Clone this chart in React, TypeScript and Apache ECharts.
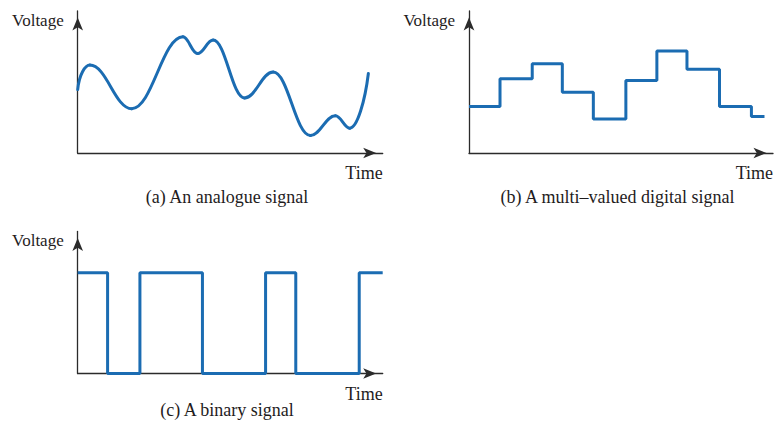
import React, { useEffect, useRef } from "react";
import * as echarts from "echarts";

// (a) analogue signal: key turning points (time, voltage)
const analogueTime = [0, 4.0, 17.7, 34.5, 39.3, 44.4, 54.7, 64.1, 76.3, 84.5, 89.2, 95.3];
const analogueVoltage = [44.7, 61.9, 31.2, 81.8, 70.0, 79.6, 38.8, 57.0, 12.3, 26.2, 17.5, 56.0];

// (b) multi-valued digital signal: level starts
const multiTime = [0, 10.2, 20.8, 30.7, 40.9, 51.6, 61.8, 71.7, 82.4, 92.9, 97.2];
const multiVoltage = [32.8, 52.3, 62.9, 42.8, 23.9, 51.1, 71.8, 58.9, 32.8, 25.7, 25.7];

// (c) binary signal
const binaryTime = [0, 9.8, 20.4, 40.9, 61.6, 71.5, 92.3, 100];
const binaryVoltage = [71, 0, 71, 0, 71, 0, 71, 71];

const captions = ["(a) An analogue signal", "(b) A multi\u2013valued digital signal", "(c) A binary signal"];
const yName = "Voltage";
const xName = "Time";

const BLUE = "#1b6cb2";
const AXIS = "#2b2b2b";
const TEXT = "#1f1c1d";
const FONT = '"Liberation Serif", "DejaVu Serif", serif';

export default function App() {
  const ref = useRef<HTMLDivElement>(null);

  useEffect(() => {
    if (!ref.current) return;
    const chart = echarts.init(ref.current, null, { renderer: "svg" });

    const grids = [
      { left: 77.7, top: 11, width: 305, height: 142 },
      { left: 469, top: 11, width: 304, height: 142 },
      { left: 77.7, top: 231.5, width: 305, height: 142 },
    ];

    const mkX = (i: number) => ({
      type: "value",
      gridIndex: i,
      min: 0,
      max: 100,
      axisLabel: { show: false },
      axisTick: { show: false },
      splitLine: { show: false },
      axisLine: {
        show: true,
        onZero: false,
        symbol: ["none", "arrow"],
        symbolSize: [8, 13],
        symbolOffset: [0, -6.5],
        lineStyle: { color: AXIS, width: 1.3 },
      },
      name: xName,
      nameLocation: "end",
      nameGap: 0,
      nameTextStyle: {
        fontFamily: FONT,
        fontSize: 18,
        color: TEXT,
        align: "right",
        verticalAlign: "top",
        padding: [11, 0, 0, 0],
      },
    });

    const mkY = (i: number) => ({
      type: "value",
      gridIndex: i,
      min: 0,
      max: 100,
      axisLabel: { show: false },
      axisTick: { show: false },
      splitLine: { show: false },
      axisLine: {
        show: true,
        onZero: false,
        symbol: ["none", "arrow"],
        symbolSize: [8, 13],
        symbolOffset: [0, -6.5],
        lineStyle: { color: AXIS, width: 1.3 },
      },
      name: yName,
      nameLocation: "end",
      nameGap: -9,
      nameTextStyle: {
        fontFamily: FONT,
        fontSize: 17,
        color: TEXT,
        align: "right",
        verticalAlign: "middle",
        padding: [0, 14, 0, 0],
      },
    });

    const n = analogueTime.length;
    const k = 0.4;

    chart.setOption({
      animation: false,
      backgroundColor: "#ffffff",
      grid: grids,
      xAxis: [mkX(0), mkX(1), mkX(2)],
      yAxis: [mkY(0), mkY(1), mkY(2)],
      graphic: [
        { type: "text", x: 227, y: 196.5, style: { text: captions[0], align: "center", verticalAlign: "middle", font: `18px ${FONT}`, fill: TEXT } },
        { type: "text", x: 617.5, y: 196.5, style: { text: captions[1], align: "center", verticalAlign: "middle", font: `18px ${FONT}`, fill: TEXT } },
        { type: "text", x: 227, y: 409.5, style: { text: captions[2], align: "center", verticalAlign: "middle", font: `18px ${FONT}`, fill: TEXT } },
      ],
      series: [
        {
          type: "custom",
          xAxisIndex: 0,
          yAxisIndex: 0,
          clip: false,
          z: 5,
          data: analogueTime.map((t, i) => [t, analogueVoltage[i]]),
          renderItem: (params: any, api: any) => {
            const i = params.dataIndex;
            if (i >= n - 1) return null;
            const p0 = api.coord([analogueTime[i], analogueVoltage[i]]);
            const p1 = api.coord([analogueTime[i + 1], analogueVoltage[i + 1]]);
            const dx = p1[0] - p0[0];
            const dy = p1[1] - p0[1];
            let c1 = [p0[0] + k * dx, p0[1]];
            let c2 = [p1[0] - k * dx, p1[1]];
            if (i === 0) c1 = [p0[0] + 0.12 * dx, p0[1] + 0.6 * dy];
            if (i === n - 2) c2 = [p1[0] - 0.18 * dx, p1[1] - 0.5 * dy];
            return {
              type: "bezierCurve",
              shape: { x1: p0[0], y1: p0[1], x2: p1[0], y2: p1[1], cpx1: c1[0], cpy1: c1[1], cpx2: c2[0], cpy2: c2[1] },
              style: { stroke: BLUE, lineWidth: 3, fill: "none", lineCap: "round" },
            };
          },
        },
        {
          type: "line",
          xAxisIndex: 1,
          yAxisIndex: 1,
          step: "end",
          symbol: "none",
          clip: false,
          z: 5,
          lineStyle: { color: BLUE, width: 3 },
          data: multiTime.map((t, i) => [t, multiVoltage[i]]),
        },
        {
          type: "line",
          xAxisIndex: 2,
          yAxisIndex: 2,
          step: "end",
          symbol: "none",
          clip: false,
          z: 5,
          lineStyle: { color: BLUE, width: 3 },
          data: binaryTime.map((t, i) => [t, binaryVoltage[i]]),
        },
      ],
    });

    return () => chart.dispose();
  }, []);

  return (
    <div
      ref={ref}
      style={{ position: "fixed", left: 0, top: 0, width: 776, height: 425, background: "#fff" }}
    />
  );
}
